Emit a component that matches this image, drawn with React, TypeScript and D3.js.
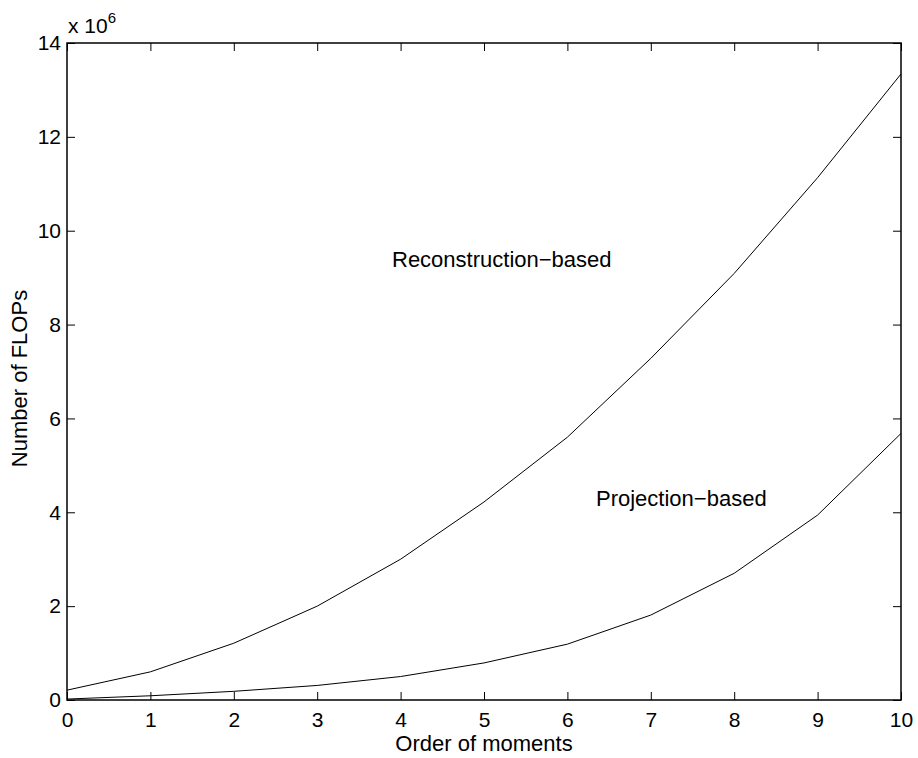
import React, { useEffect, useRef } from 'react';
import * as d3 from 'd3';

// values (in units of 1e6 FLOPs)
const orders = [0, 1, 2, 3, 4, 5, 6, 7, 8, 9, 10];
const reconstruction = [0.21, 0.6, 1.21, 2.0, 3.0, 4.22, 5.6, 7.28, 9.09, 11.13, 13.34];
const projection = [0.02, 0.09, 0.185, 0.31, 0.5, 0.79, 1.19, 1.81, 2.7, 3.94, 5.68];
const yTicks = [0, 2, 4, 6, 8, 10, 12, 14];
const xTicks = [0, 1, 2, 3, 4, 5, 6, 7, 8, 9, 10];

const FONT = '"Liberation Sans", Arial, Helvetica, sans-serif';

const App = () => {
    const svgRef = useRef<SVGSVGElement>(null);

    useEffect(() => {
        if (!svgRef.current) return;
        const svg = d3.select(svgRef.current);
        svg.selectAll('*').remove();

        const left = 67, right = 901, top = 43, bottom = 700;

        const x = d3.scaleLinear().domain([0, 10]).range([left, right]);
        const y = d3.scaleLinear().domain([0, 14]).range([bottom, top]);

        svg.append('rect')
            .attr('width', 918).attr('height', 758).attr('fill', '#fff');

        // ticks on all four sides, pointing inward
        const styleAxis = (g: any, showLabels: boolean) => {
            g.select('.domain').remove();
            g.selectAll('.tick line').attr('stroke', '#000').attr('stroke-width', 1);
            g.selectAll('.tick text')
                .attr('fill', '#000')
                .style('font-family', FONT)
                .style('font-size', '21px');
            if (!showLabels) g.selectAll('.tick text').remove();
        };

        svg.append('g')
            .attr('transform', `translate(0,${bottom})`)
            .call(d3.axisBottom(x).tickValues(xTicks).tickSizeInner(-8).tickSizeOuter(0).tickPadding(12))
            .call((g: any) => styleAxis(g, true));

        svg.append('g')
            .attr('transform', `translate(0,${top})`)
            .call(d3.axisTop(x).tickValues(xTicks).tickSizeInner(-8).tickSizeOuter(0))
            .call((g: any) => styleAxis(g, false));

        svg.append('g')
            .attr('transform', `translate(${left},0)`)
            .call(d3.axisLeft(y).tickValues(yTicks).tickSizeInner(-8).tickSizeOuter(0).tickPadding(6))
            .call((g: any) => styleAxis(g, true));

        svg.append('g')
            .attr('transform', `translate(${right},0)`)
            .call(d3.axisRight(y).tickValues(yTicks).tickSizeInner(-8).tickSizeOuter(0))
            .call((g: any) => styleAxis(g, false));

        // frame
        svg.append('rect')
            .attr('x', left).attr('y', top)
            .attr('width', right - left).attr('height', bottom - top)
            .attr('fill', 'none')
            .attr('stroke', '#000')
            .attr('stroke-width', 1.5);

        const line = d3.line<number>()
            .x((_, i) => x(orders[i]))
            .y(d => y(d));

        [reconstruction, projection].forEach(series => {
            svg.append('path')
                .attr('d', line(series))
                .attr('fill', 'none')
                .attr('stroke', '#000')
                .attr('stroke-width', 1);
        });

        const text = (tx: number, ty: number, s: string, size = 22) =>
            svg.append('text')
                .attr('x', tx).attr('y', ty)
                .attr('fill', '#000')
                .style('font-family', FONT)
                .style('font-size', `${size}px`)
                .text(s);

        text(392, 267, 'Reconstruction\u2212based');
        text(596, 506, 'Projection\u2212based');

        // axis labels
        text((left + right) / 2, 751, 'Order of moments').attr('text-anchor', 'middle');
        svg.append('text')
            .attr('transform', `translate(27,${(top + bottom) / 2 + 7}) rotate(-90)`)
            .attr('text-anchor', 'middle')
            .attr('fill', '#000')
            .style('font-family', FONT)
            .style('font-size', '22px')
            .text('Number of FLOPs');

        // exponent
        const expo = text(68, 33, 'x 10', 21);
        expo.append('tspan')
            .attr('dy', -10)
            .style('font-size', '15px')
            .text('6');
    }, []);

    return (
        <svg
            ref={svgRef}
            width={918}
            height={758}
            style={{ position: 'absolute', left: 0, top: 0, display: 'block' }}
        />
    );
};

export default App;
